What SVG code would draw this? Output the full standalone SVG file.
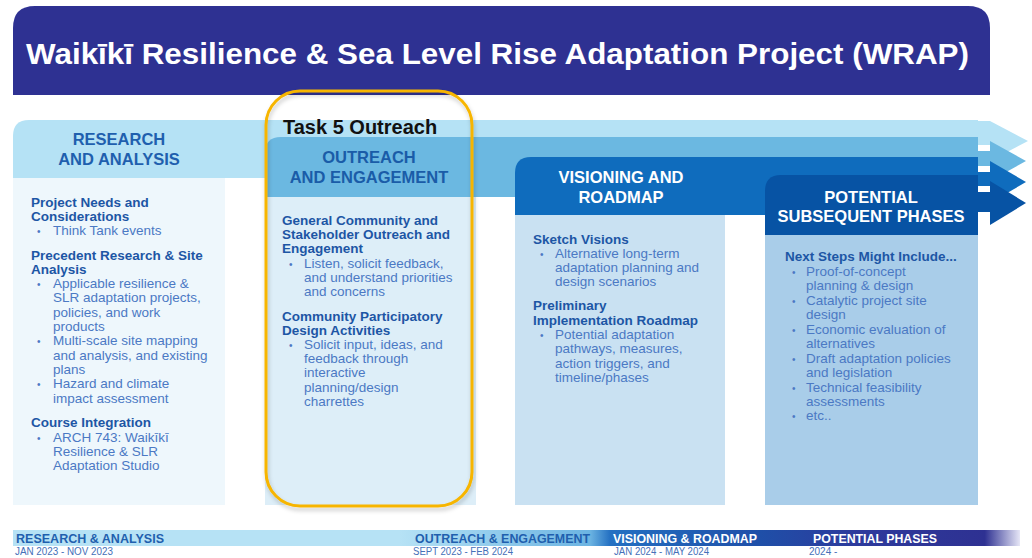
<svg xmlns="http://www.w3.org/2000/svg" width="1032" height="558" viewBox="0 0 1032 558">
<defs>
<style>
.f{font-family:"Liberation Sans",Arial,Helvetica,sans-serif}
.hd{font-family:"Liberation Sans",Arial,sans-serif;font-weight:bold;font-size:16.5px;text-anchor:middle}
.h{font-family:"Liberation Sans",Arial,sans-serif;font-weight:bold;font-size:13.5px;fill:#1d56a5}
.b{font-family:"Liberation Sans",Arial,sans-serif;font-size:13.5px;fill:#4b79c4}
.bl{font-family:"Liberation Sans",Arial,sans-serif;font-size:10px;fill:#4b79c4}
.tl{font-family:"Liberation Sans",Arial,sans-serif;font-weight:bold;font-size:12.5px}
.dt{font-family:"Liberation Sans",Arial,sans-serif;font-size:10px;fill:#4570b8}
</style>
<linearGradient id="tlg" gradientUnits="userSpaceOnUse" x1="13" y1="0" x2="1020" y2="0">
<stop offset="0" stop-color="#b6e2f5"/>
<stop offset="0.384" stop-color="#b6e2f5"/>
<stop offset="0.573" stop-color="#6cb4e2"/>
<stop offset="0.593" stop-color="#2470c2"/>
<stop offset="0.742" stop-color="#1f4fa8"/>
<stop offset="0.841" stop-color="#2d3a9c"/>
<stop offset="0.965" stop-color="#2e3192"/>
<stop offset="1" stop-color="#e6e6f6"/>
</linearGradient>
<filter id="sh" x="-10%" y="-10%" width="120%" height="120%">
<feDropShadow dx="1" dy="3" stdDeviation="2" flood-color="#000" flood-opacity="0.22"/>
</filter>
</defs>
<rect width="1032" height="558" fill="#ffffff"/>

<g id="title">
<path d="M13,95 V28 Q13,6 35,6 H968 Q990,6 990,28 V95 Z" fill="#2e3192"/>
<text class="f" x="26" y="64" font-size="30" font-weight="bold" fill="#ffffff" textLength="943" lengthAdjust="spacingAndGlyphs">Waikīkī Resilience &amp; Sea Level Rise Adaptation Project (WRAP)</text>
</g>

<g id="bands">
<path d="M13,136 Q13,120 29,120 H978 V178 H13 Z" fill="#b5e2f5"/>
<path d="M265,153 Q265,137 281,137 H978 V197 H265 Z" fill="#6bb8e1"/>
<path d="M515,173 Q515,157 531,157 H978 V215 H515 Z" fill="#0f6cbd"/>
<path d="M765,191 Q765,175 781,175 H978 V235 H765 Z" fill="#0753a4"/>
</g>

<g id="connectors">
<rect x="978" y="121" width="12" height="24" fill="#b5e2f5"/>
<rect x="978" y="151" width="12" height="15" fill="#6bb8e1"/>
<rect x="978" y="172" width="12" height="14" fill="#0f6cbd"/>
<rect x="978" y="192" width="12" height="20" fill="#0753a4"/>
<polygon points="990,121 1028,141 990,161" fill="#b5e2f5"/>
<polygon points="990,141 1026,161 990,181" fill="#6bb8e1"/>
<polygon points="990,161 1026,182 990,203" fill="#0f6cbd"/>
<polygon points="990,181 1026,203 990,225" fill="#0753a4"/>
</g>

<g id="research">
<rect x="13" y="178" width="212" height="327" fill="#eef7fc"/>
<text class="hd" x="119" y="145" fill="#1f5fae">RESEARCH</text>
<text class="hd" x="119" y="165" fill="#1f5fae">AND ANALYSIS</text>
<text class="h" x="31" y="207">Project Needs and</text>
<text class="h" x="31" y="221">Considerations</text>
<text class="bl" x="37" y="235">•</text><text class="b" x="53" y="235">Think Tank events</text>
<text class="h" x="31" y="260">Precedent Research &amp; Site</text>
<text class="h" x="31" y="274">Analysis</text>
<text class="bl" x="37" y="288">•</text><text class="b" x="53" y="288">Applicable resilience &amp;</text>
<text class="b" x="53" y="302">SLR adaptation projects,</text>
<text class="b" x="53" y="316.5">policies, and work</text>
<text class="b" x="53" y="331">products</text>
<text class="bl" x="37" y="345">•</text><text class="b" x="53" y="345">Multi-scale site mapping</text>
<text class="b" x="53" y="359.5">and analysis, and existing</text>
<text class="b" x="53" y="374">plans</text>
<text class="bl" x="37" y="388">•</text><text class="b" x="53" y="388">Hazard and climate</text>
<text class="b" x="53" y="402.5">impact assessment</text>
<text class="h" x="31" y="427">Course Integration</text>
<text class="bl" x="37" y="441.5">•</text><text class="b" x="53" y="441.5">ARCH 743: Waikīkī</text>
<text class="b" x="53" y="456">Resilience &amp; SLR</text>
<text class="b" x="53" y="470">Adaptation Studio</text>
</g>

<g id="outreach">
<rect x="265" y="197" width="211" height="308" fill="#ddeef8"/>
<rect x="266" y="91" width="206" height="415" rx="34" fill="none" stroke="#f7b500" stroke-width="3" filter="url(#sh)"/>
<text class="f" x="283" y="134" font-size="20" font-weight="bold" fill="#111111">Task 5 Outreach</text>
<text class="hd" x="369" y="163" fill="#1a5ca8">OUTREACH</text>
<text class="hd" x="369" y="183" fill="#1a5ca8">AND ENGAGEMENT</text>
<text class="h" x="282" y="225">General Community and</text>
<text class="h" x="282" y="239">Stakeholder Outreach and</text>
<text class="h" x="282" y="253">Engagement</text>
<text class="bl" x="289" y="268">•</text><text class="b" x="304" y="268">Listen, solicit feedback,</text>
<text class="b" x="304" y="282">and understand priorities</text>
<text class="b" x="304" y="296">and concerns</text>
<text class="h" x="282" y="321">Community Participatory</text>
<text class="h" x="282" y="335">Design Activities</text>
<text class="bl" x="289" y="349">•</text><text class="b" x="304" y="349">Solicit input, ideas, and</text>
<text class="b" x="304" y="363">feedback through</text>
<text class="b" x="304" y="377">interactive</text>
<text class="b" x="304" y="391.5">planning/design</text>
<text class="b" x="304" y="406">charrettes</text>
</g>

<g id="visioning">
<rect x="515" y="215" width="210" height="290" fill="#c9e1f2"/>
<text class="hd" x="621" y="183" fill="#ffffff">VISIONING AND</text>
<text class="hd" x="621" y="203" fill="#ffffff">ROADMAP</text>
<text class="h" x="533" y="244">Sketch Visions</text>
<text class="bl" x="540" y="258">•</text><text class="b" x="555" y="258">Alternative long-term</text>
<text class="b" x="555" y="272">adaptation planning and</text>
<text class="b" x="555" y="286">design scenarios</text>
<text class="h" x="533" y="310">Preliminary</text>
<text class="h" x="533" y="324.5">Implementation Roadmap</text>
<text class="bl" x="540" y="339">•</text><text class="b" x="555" y="339">Potential adaptation</text>
<text class="b" x="555" y="353">pathways, measures,</text>
<text class="b" x="555" y="367.5">action triggers, and</text>
<text class="b" x="555" y="382">timeline/phases</text>
</g>

<g id="potential">
<rect x="765" y="235" width="213" height="270" fill="#a9cde9"/>
<text class="hd" x="871" y="203" fill="#ffffff">POTENTIAL</text>
<text class="hd" x="871" y="222" fill="#ffffff">SUBSEQUENT PHASES</text>
<text class="h" x="785" y="261">Next Steps Might Include...</text>
<text class="bl" x="792" y="275.5">•</text><text class="b" x="806" y="275.5">Proof-of-concept</text>
<text class="b" x="806" y="290">planning &amp; design</text>
<text class="bl" x="792" y="304.5">•</text><text class="b" x="806" y="304.5">Catalytic project site</text>
<text class="b" x="806" y="319">design</text>
<text class="bl" x="792" y="333.5">•</text><text class="b" x="806" y="333.5">Economic evaluation of</text>
<text class="b" x="806" y="348">alternatives</text>
<text class="bl" x="792" y="362.5">•</text><text class="b" x="806" y="362.5">Draft adaptation policies</text>
<text class="b" x="806" y="377">and legislation</text>
<text class="bl" x="792" y="391.5">•</text><text class="b" x="806" y="391.5">Technical feasibility</text>
<text class="b" x="806" y="406">assessments</text>
<text class="bl" x="792" y="420">•</text><text class="b" x="806" y="420">etc..</text>
</g>

<g id="timeline">
<rect x="13" y="530" width="1007" height="16" fill="url(#tlg)"/>
<text class="tl" x="16" y="543" fill="#1f5fae" textLength="148" lengthAdjust="spacingAndGlyphs">RESEARCH &amp; ANALYSIS</text>
<text class="tl" x="415" y="543" fill="#1f5fae" textLength="175" lengthAdjust="spacingAndGlyphs">OUTREACH &amp; ENGAGEMENT</text>
<text class="tl" x="613" y="543" fill="#ffffff" textLength="144" lengthAdjust="spacingAndGlyphs">VISIONING &amp; ROADMAP</text>
<text class="tl" x="813" y="543" fill="#ffffff" textLength="124" lengthAdjust="spacingAndGlyphs">POTENTIAL PHASES</text>
<text class="dt" x="15" y="555" textLength="98" lengthAdjust="spacingAndGlyphs">JAN 2023 - NOV 2023</text>
<text class="dt" x="413" y="555" textLength="100" lengthAdjust="spacingAndGlyphs">SEPT 2023 - FEB 2024</text>
<text class="dt" x="614" y="555" textLength="95" lengthAdjust="spacingAndGlyphs">JAN 2024 - MAY 2024</text>
<text class="dt" x="809" y="555">2024 -</text>
</g>
</svg>
